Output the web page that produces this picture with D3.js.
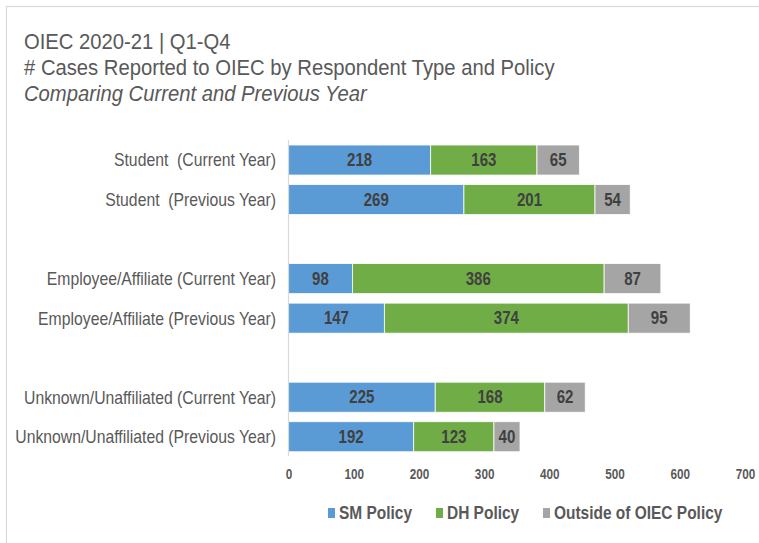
<!DOCTYPE html>
<html><head><meta charset="utf-8">
<script src="https://cdn.jsdelivr.net/npm/d3@7"></script>
<style>
html,body{margin:0;padding:0;background:#fff;}
text{font-family:"Liberation Sans",Arial,sans-serif;}
</style></head>
<body>
<svg id="c" width="759" height="543"></svg>
<script>
const categories = [
  "Student  (Current Year)",
  "Student  (Previous Year)",
  "",
  "Employee/Affiliate (Current Year)",
  "Employee/Affiliate (Previous Year)",
  " ",
  "Unknown/Unaffiliated (Current Year)",
  "Unknown/Unaffiliated (Previous Year)"
];
const seriesNames = ["SM Policy", "DH Policy", "Outside of OIEC Policy"];
const smPolicy      = [218, 269, null,  98, 147, null, 225, 192];
const dhPolicy      = [163, 201, null, 386, 374, null, 168, 123];
const outsidePolicy = [ 65,  54, null,  87,  95, null,  62,  40];
const xTicks = [0, 100, 200, 300, 400, 500, 600, 700];
const titleLines = ["OIEC 2020-21 | Q1-Q4", "# Cases Reported to OIEC by Respondent Type and Policy", "Comparing Current and Previous Year"];
const colors = ["#5B9BD5", "#70AD47", "#A5A5A5"];

const svg = d3.select("#c");
// narrow a text horizontally around its anchor x
function squeeze(sel, sx){
  sel.each(function(){
    const t = d3.select(this);
    const x0 = +t.attr("x") || 0;
    t.attr("x",0).attr("transform",`translate(${x0},0) scale(${sx},1)`);
  });
}

// frame
svg.append("rect").attr("x",6.5).attr("y",6.5).attr("width",780).attr("height",560)
  .attr("fill","none").attr("stroke","#d9d9d9").attr("stroke-width",1.2);

// titles
const ty = [49, 75, 101];
titleLines.forEach((t,i)=>{
  const tx = svg.append("text").attr("x",24).attr("y",ty[i]).text(t)
    .attr("fill","#595959").attr("font-size",22.5)
    .attr("font-style", i===2 ? "italic" : "normal");
  squeeze(tx, 0.9);
});

const x = d3.scaleLinear().domain([0,700]).range([288.5,745]);
const y = d3.scaleBand().domain(d3.range(categories.length)).range([140.26,456.5])
  .paddingInner(0.24).paddingOuter(0.12);

const rows = categories.map((c,i)=>({i, vals:[smPolicy[i], dhPolicy[i], outsidePolicy[i]]}));
const stackData = rows.filter(r=>r.vals[0]!=null).map(r=>({i:r.i, s0:r.vals[0], s1:r.vals[1], s2:r.vals[2]}));
const stack = d3.stack().keys(["s0","s1","s2"])(stackData);

const g = svg.append("g");
stack.forEach((layer,k)=>{
  g.selectAll(null).data(layer).enter().append("rect")
    .attr("x",d=>x(d[0])).attr("y",d=>y(d.data.i))
    .attr("width",d=>x(d[1])-x(d[0])).attr("height",y.bandwidth())
    .attr("fill",colors[k]).attr("stroke","#fff").attr("stroke-width",0.8);
  const lbl = g.selectAll(null).data(layer).enter().append("text")
    .attr("x",d=>(x(d[0])+x(d[1]))/2).attr("y",d=>y(d.data.i)+y.bandwidth()/2)
    .attr("dy","0.36em").attr("text-anchor","middle")
    .attr("font-size",17.5).attr("font-weight","bold").attr("fill","#404040")
    .text(d=>d[1]-d[0]);
  squeeze(lbl, 0.86);
});

// vertical axis line
svg.append("line").attr("x1",288.5).attr("x2",288.5).attr("y1",140).attr("y2",456)
  .attr("stroke","#d9d9d9").attr("stroke-width",1.2);

// category labels
const cl = svg.selectAll(null).data(categories.map((c,i)=>({c,i})).filter(d=>d.c.trim()!=="")).enter()
  .append("text").attr("x",276).attr("y",d=>y(d.i)+y.bandwidth()/2).attr("dy","0.36em")
  .attr("text-anchor","end").attr("font-size",18).attr("fill","#595959")
  .style("white-space","pre").text(d=>d.c);
squeeze(cl, 0.876);

// x axis tick labels
const xAxis = d3.axisBottom(x).tickValues(xTicks).tickSize(0).tickPadding(0);
const ax = svg.append("g").attr("transform","translate(0,469)").call(xAxis);
ax.select(".domain").remove();
ax.selectAll("text").attr("font-size",14).attr("font-weight","bold").attr("fill","#595959")
  .attr("font-family",null).attr("transform","scale(0.84,1)");

// legend
const legX = [328, 436, 543];
seriesNames.forEach((s,k)=>{
  svg.append("rect").attr("x",legX[k]).attr("y",508).attr("width",7).attr("height",10).attr("fill",colors[k]);
  const lt = svg.append("text").attr("x",legX[k]+11).attr("y",513).attr("dy","0.36em")
    .attr("font-size",18).attr("font-weight","bold").attr("fill","#595959").text(s);
  squeeze(lt, 0.86);
});
</script>
</body></html>
